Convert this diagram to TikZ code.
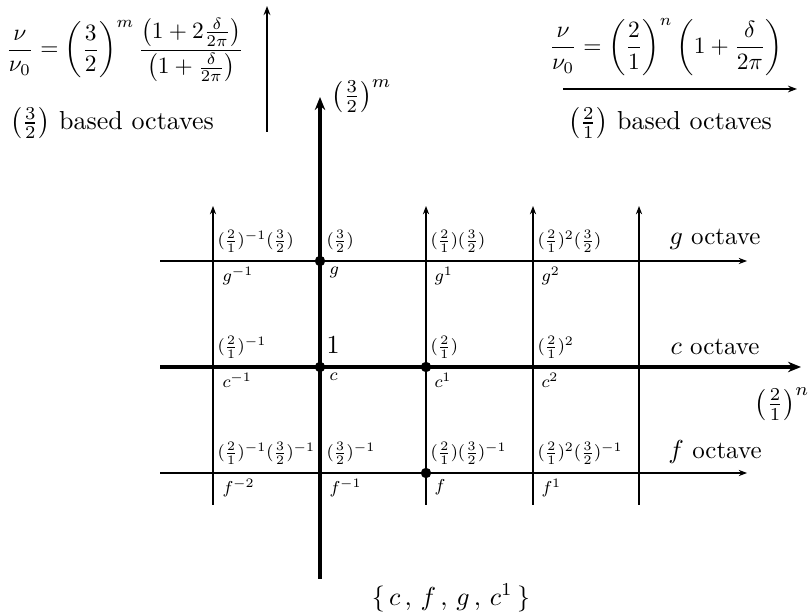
\documentclass[tikz,border=0pt]{standalone}
\usepackage{amsmath}
\usetikzlibrary{arrows.meta}
\newcommand{\glab}[1]{\scalebox{0.83}{\footnotesize$#1$}}
\begin{document}
\begin{tikzpicture}[x=0.01352cm,y=-0.01352cm,
  thinline/.style={line width=0.45pt,-{Stealth[length=3.2pt,width=2.4pt]}},
  thickline/.style={line width=1.25pt,-{Stealth[length=5pt,width=4pt]}},
  topline/.style={line width=0.6pt,-{Stealth[length=3.5pt,width=2.6pt]}},
  dot/.style={circle,fill,inner sep=0pt,minimum size=4pt},
  lab/.style={inner sep=0pt},
  octlab/.style={font=\fontsize{9.6}{11}\selectfont,inner sep=0pt},
  txt/.style={inner sep=0pt}]
\useasboundingbox (0,0) rectangle (811,616);
% coordinates
\coordinate (gL) at (160,261); \coordinate (gR) at (747,261);
\coordinate (cL) at (160,367); \coordinate (cR) at (801,367);
\coordinate (fL) at (160,473); \coordinate (fR) at (747,473);
\foreach \n/\x in {a/213,c/426,d/533,e/639}{
  \coordinate (v\n B) at (\x,505); \coordinate (v\n T) at (\x,206);}
\coordinate (vbB) at (320,579); \coordinate (vbT) at (320,97);
% grid lines
\draw[thinline] (gL) -- (gR);
\draw[thinline] (fL) -- (fR);
\foreach \n in {a,c,d,e}{\draw[thinline] (v\n B) -- (v\n T);}
\draw[thickline] (cL) -- (cR);
\draw[thickline] (vbB) -- (vbT);
% dots
\node[dot] (d1) at (320,261) {};
\node[dot] (d2) at (320,367) {};
\node[dot] (d3) at (426,367) {};
\node[dot] (d4) at (426,473) {};
% upper labels
\node[lab,anchor=south west] (ug1) at (217,253) {\glab{(\frac{2}{1})^{-1}(\frac{3}{2})}};
\node[lab,anchor=south west] (ug2) at (326,253) {\glab{(\frac{3}{2})}};
\node[lab,anchor=south west] (ug3) at (430,253) {\glab{(\frac{2}{1})(\frac{3}{2})}};
\node[lab,anchor=south west] (ug4) at (537,253) {\glab{(\frac{2}{1})^2(\frac{3}{2})}};
\node[lab,anchor=south west] (uc1) at (217,359) {\glab{(\frac{2}{1})^{-1}}};
\node[txt,anchor=south west] (uc2) at (326,354) {$1$};
\node[lab,anchor=south west] (uc3) at (430,359) {\glab{(\frac{2}{1})}};
\node[lab,anchor=south west] (uc4) at (537,359) {\glab{(\frac{2}{1})^2}};
\node[lab,anchor=south west] (uf1) at (217,465) {\glab{(\frac{2}{1})^{-1}(\frac{3}{2})^{-1}}};
\node[lab,anchor=south west] (uf2) at (326,465) {\glab{(\frac{3}{2})^{-1}}};
\node[lab,anchor=south west] (uf3) at (430,465) {\glab{(\frac{2}{1})(\frac{3}{2})^{-1}}};
\node[lab,anchor=south west] (uf4) at (537,465) {\glab{(\frac{2}{1})^2(\frac{3}{2})^{-1}}};
% lower labels
\node[lab,anchor=north west] (lg1) at (222,267) {\glab{g^{-1}}};
\node[lab,anchor=north west] (lg2) at (329,267) {\glab{g}};
\node[lab,anchor=north west] (lg3) at (434,267) {\glab{g^{1}}};
\node[lab,anchor=north west] (lg4) at (541,267) {\glab{g^{2}}};
\node[lab,anchor=north west] (lc1) at (222,373) {\glab{c^{-1}}};
\node[lab,anchor=north west] (lc2) at (329,373) {\glab{c}};
\node[lab,anchor=north west] (lc3) at (434,373) {\glab{c^{1}}};
\node[lab,anchor=north west] (lc4) at (541,373) {\glab{c^{2}}};
\node[lab,anchor=north west] (lf1) at (222,479) {\glab{f^{-2}}};
\node[lab,anchor=north west] (lf2) at (329,479) {\glab{f^{-1}}};
\node[lab,anchor=north west] (lf3) at (434,479) {\glab{f}};
\node[lab,anchor=north west] (lf4) at (541,479) {\glab{f^{1}}};
% octave labels
\node[octlab] (go) at (715,239) {$g$ octave};
\node[octlab] (co) at (715,347) {$c$ octave};
\node[octlab] (fo) at (715,452) {$f$ octave};
% axis labels
\node[txt,anchor=west] (am) at (331,96) {$\left(\frac{3}{2}\right)^m$};
\node[txt,anchor=east] (an) at (810,404) {$\left(\frac{2}{1}\right)^n$};
% top left
\node[txt] (fl) at (125,50) {\scalebox{0.9}{$\displaystyle \frac{\nu}{\nu_0}=\left(\frac{3}{2}\right)^m\frac{\left(1+2\frac{\delta}{2\pi}\right)}{\left(1+\frac{\delta}{2\pi}\right)}$}};
\node[txt] (bl) at (112,123) {$\left(\frac{3}{2}\right)$ based octaves};
\coordinate (tlB) at (267,132); \coordinate (tlT) at (267,6);
\draw[topline] (tlB) -- (tlT);
% top right
\node[txt] (fr) at (666,47) {\scalebox{0.9}{$\displaystyle \frac{\nu}{\nu_0}=\left(\frac{2}{1}\right)^n\left(1+\frac{\delta}{2\pi}\right)$}};
\node[txt] (br) at (670,123) {$\left(\frac{2}{1}\right)$ based octaves};
\coordinate (trL) at (563,89); \coordinate (trR) at (797,89);
\draw[topline] (trL) -- (trR);
% bottom set
\node[txt] (set) at (451,598) {$\{\,c\,,\,f\,,\,g\,,\,c^1\,\}$};
\end{tikzpicture}
\end{document}
